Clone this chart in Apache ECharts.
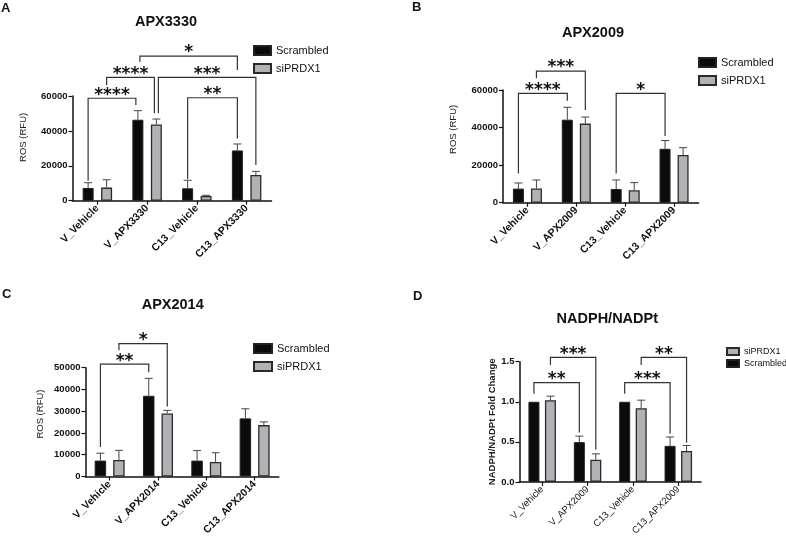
<!DOCTYPE html>
<html><head><meta charset="utf-8">
<script src="https://cdn.jsdelivr.net/npm/echarts@6/dist/echarts.min.js"></script>
<style>html,body{margin:0;padding:0;background:#fff}#c{width:786px;height:538px}</style>
</head><body><div id="c"></div><script>
// ---------- DATA ----------
const catsA = ['V_Vehicle','V_APX3330','C13_Vehicle','C13_APX3330'];
const catsB = ['V_Vehicle','V_APX2009','C13_Vehicle','C13_APX2009'];
const catsC = ['V_Vehicle','V_APX2014','C13_Vehicle','C13_APX2014'];
const catsD = ['V_Vehicle','V_APX2009','C13_Vehicle','C13_APX2009'];

const scrA = [7300, 46400, 7100, 28800];
const scrErrA = [3000, 5200, 4600, 3700];
const siA = [7500, 43700, 2700, 14700];
const siErrA = [4500, 3100, 400, 2100];

const scrB = [7500, 44200, 7300, 28700];
const scrErrB = [3000, 6600, 4800, 4400];
const siB = [7600, 42100, 6600, 25400];
const siErrB = [4500, 3500, 4100, 3900];

const scrC = [7300, 37100, 7300, 26700];
const scrErrC = [3400, 8000, 4600, 4400];
const siC = [7600, 29000, 6700, 23600];
const siErrC = [4400, 1400, 4200, 1500];

const scrD = [1.0, 0.496, 1.0, 0.45];
const scrErrD = [0, 0.075, 0, 0.11];
const siD = [1.02, 0.277, 0.92, 0.385];
const siErrD = [0.05, 0.073, 0.10, 0.07];

// significance brackets: [fromCat, fromSeries(0=Scrambled,1=siPRDX1), toCat, toSeries, barLevel, leftLegEnd, rightLegEnd, label]
const bracketsA = [
  [0,0,1,0, 58700, 11500, 54800, '****'],
  [0,1,1,1, 70700, 66300, 50100, '****'],
  [1,1,3,1, 70700, 50100, 20500, '***'],
  [1,0,3,0, 82900, 79500, 74900, '*'],
  [2,0,3,0, 59000, 12500, 35700, '**']
];
const bracketsB = [
  [0,0,1,0, 58200, 15600, 54300, '****'],
  [0,1,1,1, 70100, 66200, 49400, '***'],
  [2,0,3,0, 58200, 15600, 35500, '*']
];
const bracketsC = [
  [0,0,1,0, 51600, 13500, 47900, '**'],
  [0,1,1,1, 61100, 58000, 32200, '*']
];
const bracketsD = [
  [0,0,1,0, 1.239, 1.099, 0.618, '**'],
  [0,1,1,1, 1.555, 1.459, 0.404, '***'],
  [2,0,3,0, 1.239, 1.099, 0.602, '***'],
  [2,1,3,1, 1.555, 1.459, 0.487, '**']
];

const yTicksA = {min:0, max:60000, interval:20000};
const yTicksB = {min:0, max:60000, interval:20000};
const yTicksC = {min:0, max:50000, interval:10000};
const yTicksD = {min:0, max:1.5, interval:0.5};

// ---------- LAYOUT / STYLE ----------
const FONT = '"Liberation Sans", Arial, sans-serif';
const BLACK = '#0b0b0b', GRAY = '#b2b2b6';

const panels = [
  {cats:catsA, scr:scrA, scrE:scrErrA, si:siA, siE:siErrA, br:bracketsA, yt:yTicksA,
   grid:{left:72.5, top:96, width:199, height:104.7}, bw:11, gap:7.5,
   yName:'ROS (RFU)', nameGap:44, nameShift:22, yNameBold:false, xBold:true, xSize:10.5,
   legend:{left:248, top:39, order:['Scrambled','siPRDX1'], iw:17, ih:9, fs:11, gap:5},
   fmt: v => String(v)},
  {cats:catsB, scr:scrB, scrE:scrErrB, si:siB, siE:siErrB, br:bracketsB, yt:yTicksB,
   grid:{left:503, top:90, width:195.5, height:112.7}, bw:11, gap:7,
   yName:'ROS (RFU)', nameGap:45, nameShift:34, yNameBold:false, xBold:true, xSize:10.5,
   legend:{left:693, top:51, order:['Scrambled','siPRDX1'], iw:17, ih:9, fs:11, gap:5},
   fmt: v => String(v)},
  {cats:catsC, scr:scrC, scrE:scrErrC, si:siC, siE:siErrC, br:bracketsC, yt:yTicksC,
   grid:{left:85.5, top:367.7, width:193.3, height:116.6}, bw:11.5, gap:7,
   yName:'ROS (RFU)', nameGap:40, nameShift:16, yNameBold:false, xBold:true, xSize:10.5,
   legend:{left:248, top:337, order:['Scrambled','siPRDX1'], iw:18, ih:9, fs:11, gap:5},
   fmt: v => String(v)},
  {cats:catsD, scr:scrD, scrE:scrErrD, si:siD, siE:siErrD, br:bracketsD, yt:yTicksD,
   grid:{left:519.5, top:361.7, width:181.5, height:120.8}, bw:11, gap:5.5,
   yName:'NADPH/NADPt Fold Change', nameGap:22, nameShift:0, yNameBold:true, xBold:false, xSize:9.5,
   legend:{left:721, top:341, order:['siPRDX1','Scrambled'], iw:12, ih:7, fs:9, gap:1},
   fmt: v => v.toFixed(1)}
];

function errRender(off, cap) {
  return function (params, api) {
    const i = api.value(0), v = api.value(1), e = api.value(2);
    if (!e) return {type:'group', children:[]};
    const p0 = api.coord([i, v]), p1 = api.coord([i, v + e]);
    const x = p0[0] + off;
    const st = {stroke:'#444', lineWidth:1};
    return {type:'group', children:[
      {type:'line', shape:{x1:x, y1:p0[1], x2:x, y2:p1[1]}, style:st},
      {type:'line', shape:{x1:x-cap/2, y1:p1[1], x2:x+cap/2, y2:p1[1]}, style:st}
    ]};
  };
}

function bracketRender(brs, offs) {
  return function (params, api) {
    const b = brs[params.dataIndex];
    const [c1,s1,c2,s2,yH,yL,yR,lab] = b;
    // nudge legs where one bracket ends and another starts on the same bar
    let n1 = 0, n2 = 0;
    brs.forEach(o => {
      if (o !== b && o[2] === c1 && o[3] === s1) n1 = 2;
      if (o !== b && o[0] === c2 && o[1] === s2) n2 = -2;
    });
    const xa = api.coord([c1, 0])[0] + offs[s1] + n1;
    const xb = api.coord([c2, 0])[0] + offs[s2] + n2;
    const yh = api.coord([c1, yH])[1];
    const yl = api.coord([c1, yL])[1];
    const yr = api.coord([c2, yR])[1];
    return {type:'group', children:[
      {type:'polyline', shape:{points:[[xa,yl],[xa,yh],[xb,yh],[xb,yr]]},
       style:{stroke:'#333', lineWidth:1.2, fill:'none'}},
      {type:'text', style:{text:lab, x:(xa+xb)/2, y:yh-3, align:'center', verticalAlign:'middle',
       font:'bold 17px "DejaVu Sans"', fill:'#111'}}
    ]};
  };
}

const grids = [], xAxes = [], yAxes = [], series = [], legends = [];
panels.forEach((p, k) => {
  grids.push(Object.assign({containLabel:false}, p.grid));
  xAxes.push({
    gridIndex:k, type:'category', data:p.cats,
    axisLine:{lineStyle:{color:'#111', width:1.5}},
    axisTick:{show:true, alignWithLabel:true, length:4, lineStyle:{color:'#111', width:1.2}},
    axisLabel:{interval:0, rotate:45, margin:6, fontFamily:FONT, fontSize:p.xSize,
      fontWeight:p.xBold?'bold':'normal', color:'#111'}
  });
  yAxes.push({
    gridIndex:k, type:'value', min:p.yt.min, max:p.yt.max, interval:p.yt.interval,
    axisLine:{show:true, lineStyle:{color:'#111', width:1.5}},
    axisTick:{show:true, length:4, lineStyle:{color:'#111', width:1.2}},
    splitLine:{show:false},
    axisLabel:{fontFamily:FONT, fontSize:9.5, fontWeight:'bold', color:'#111', margin:5, formatter:p.fmt},
    name:p.yName, nameLocation:'middle', nameGap:p.nameGap,
    nameTextStyle:{fontFamily:FONT, fontSize:p.yNameBold?9.5:9.5, fontWeight:p.yNameBold?'bold':'normal',
      color:'#222', padding:[0,0,0,p.nameShift]}
  });
  const half = (p.bw + p.gap) / 2;
  const offs = [-half, half];
  const barGap = Math.round(p.gap / p.bw * 100) + '%';
  series.push({
    name:'Scrambled', type:'bar', xAxisIndex:k, yAxisIndex:k, data:p.scr, barWidth:p.bw, barGap:barGap,
    itemStyle:{color:BLACK, borderColor:'#222', borderWidth:1}, z:2
  });
  series.push({
    name:'siPRDX1', type:'bar', xAxisIndex:k, yAxisIndex:k, data:p.si, barWidth:p.bw, barGap:barGap,
    itemStyle:{color:GRAY, borderColor:'#2a2a2a', borderWidth:1.3}, z:2
  });
  series.push({
    type:'custom', xAxisIndex:k, yAxisIndex:k, renderItem:errRender(offs[0], 8),
    data:p.scr.map((v,i)=>[i, v, p.scrE[i]]), encode:{x:0, y:1}, z:3, silent:true
  });
  series.push({
    type:'custom', xAxisIndex:k, yAxisIndex:k, renderItem:errRender(offs[1], 8),
    data:p.si.map((v,i)=>[i, v, p.siE[i]]), encode:{x:0, y:1}, z:3, silent:true
  });
  series.push({
    type:'custom', xAxisIndex:k, yAxisIndex:k, renderItem:bracketRender(p.br, offs), clip:false,
    data:p.br.map(b=>[b[0], b[4]]), encode:{x:0, y:1}, z:4, silent:true
  });
  legends.push({
    orient:'vertical', left:p.legend.left, top:p.legend.top, data:p.legend.order,
    itemWidth:p.legend.iw, itemHeight:p.legend.ih, itemGap:p.legend.gap, icon:'rect',
    textStyle:{fontFamily:FONT, fontSize:p.legend.fs, color:'#111', lineHeight:p.legend.fs+2},
    selectedMode:false
  });
});

const titles = [
  {t:'APX3330', x:166, y:22}, {t:'APX2009', x:593, y:33},
  {t:'APX2014', x:172.7, y:305}, {t:'NADPH/NADPt', x:607.3, y:319.3}
];
const letters = [
  {t:'A', x:1, y:8}, {t:'B', x:412, y:7}, {t:'C', x:2, y:294.5}, {t:'D', x:413, y:296}
];
const graphics = [];
titles.forEach(o => graphics.push({type:'text', x:o.x, y:o.y, style:{text:o.t, fill:'#111',
  font:'bold 14.5px ' + FONT, align:'center', verticalAlign:'middle'}}));
letters.forEach(o => graphics.push({type:'text', x:o.x, y:o.y, style:{text:o.t, fill:'#111',
  font:'bold 13px ' + FONT, align:'left', verticalAlign:'middle'}}));

const chart = echarts.init(document.getElementById('c'), null, {renderer:'canvas'});
chart.setOption({
  backgroundColor:'#fff', animation:false,
  grid:grids, xAxis:xAxes, yAxis:yAxes, series:series, legend:legends, graphic:graphics
});
</script></body></html>
